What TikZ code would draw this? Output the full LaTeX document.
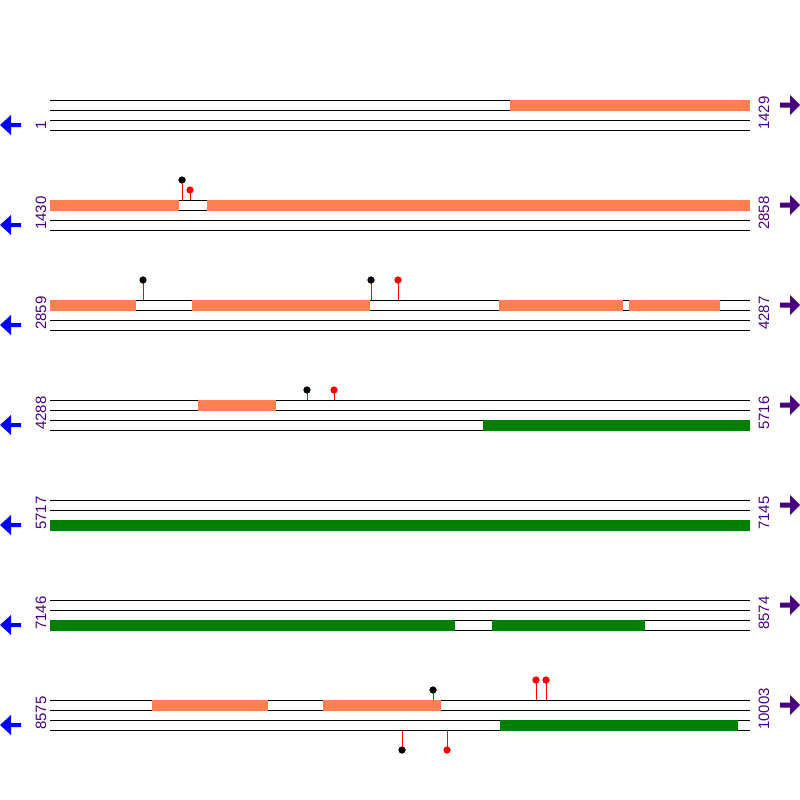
\documentclass[tikz,border=0pt]{standalone}
\usepackage{fontspec}
\setmainfont{Liberation Sans}
\definecolor{barcoral}{RGB}{255,127,80}
\definecolor{bargreen}{RGB}{0,128,0}
\definecolor{lblpurple}{RGB}{75,0,130}
\definecolor{arrblue}{RGB}{0,0,255}
\begin{document}
\begin{tikzpicture}[x=1pt,y=-1pt,
  trackline/.style={black,line width=1pt},
  coralbar/.style={fill=barcoral,draw=none},
  greenbar/.style={fill=bargreen,draw=none},
  poslabel/.style={rotate=90,anchor=base west,inner sep=0pt,text=lblpurple,font=\fontsize{15}{15}\selectfont},
  stem/.style={red,line width=1pt},
  headblack/.style={circle,fill=black,draw=none,minimum size=7pt,inner sep=0pt},
  headred/.style={circle,fill=red,draw=none,minimum size=7pt,inner sep=0pt}]
\useasboundingbox (0,0) rectangle (800,800);
\fill[white] (0,0) rectangle (800,800);
% rows
\foreach \r/\a/\b in {0/1/1429,1/1430/2858,2/2859/4287,3/4288/5716,4/5717/7145,5/7146/8574,6/8575/10003}{
  \pgfmathsetmacro{\yo}{100+100*\r}
  \foreach \k in {0,10,20,30}{
    \draw[trackline] (50,\yo+\k) -- (750,\yo+\k);
  }
  \node[poslabel] (L\r) at (46,\yo+30) {\a};
  \node[poslabel] (R\r) at (769,\yo+30) {\b};
  \fill[arrblue] (0,\yo+25) -- (11,\yo+15) -- (11,\yo+23) -- (21,\yo+23) -- (21,\yo+27) -- (11,\yo+27) -- (11,\yo+35) -- cycle;
  \fill[lblpurple] (800,\yo+5) -- (790,\yo-5) -- (790,\yo+2.5) -- (780,\yo+2.5) -- (780,\yo+7.5) -- (790,\yo+7.5) -- (790,\yo+15) -- cycle;
}
% coral bars (top lane)
\foreach \xa/\xb/\yo in {510/750/100,
  50/179/200, 207/750/200,
  50/136/300, 192/370/300, 499/623/300, 629/720/300,
  198/276/400,
  152/268/700, 323/441/700}{
  \fill[coralbar] (\xa,\yo-0.5) rectangle (\xb,\yo+10.5);
}
% green bars (third lane)
\foreach \xa/\xb/\yo in {483/750/400, 50/750/500, 50/455/600, 492/645/600, 500/738/700}{
  \fill[greenbar] (\xa,\yo+19.5) rectangle (\xb,\yo+30.5);
}
% lollipops
\foreach \n/\x/\ys/\yh/\st in {a/182/200/180/headblack, b/190/200/190/headred,
  c/143/300/280/headblack, d/371/300/280/headblack, e/398/300/280/headred,
  f/307/400/390/headblack, g/334/400/390/headred,
  h/433/700/690/headblack, i/536/700/680/headred, j/546/700/680/headred,
  k/402/730/750/headblack, l/447/730/750/headred}{
  \coordinate (s\n) at (\x,\ys);
  \node[\st] (h\n) at (\x,\yh) {};
  \draw[stem] (s\n) -- (h\n.center);
  \node[\st] at (h\n) {};
}
\end{tikzpicture}
\end{document}
